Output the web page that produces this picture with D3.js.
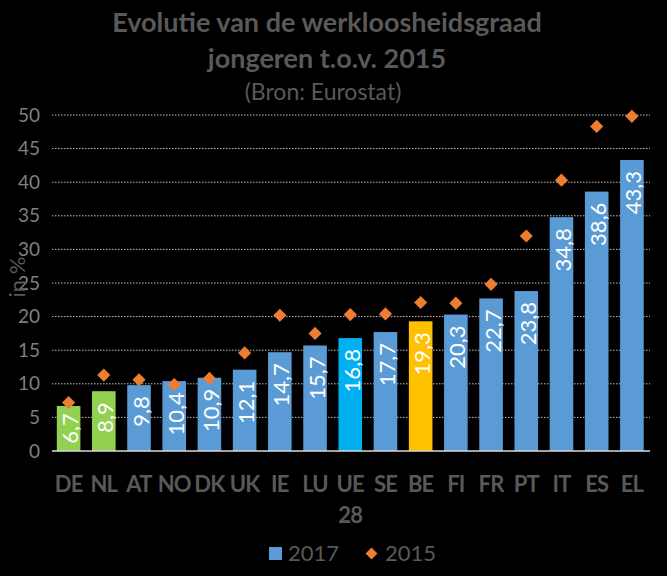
<!DOCTYPE html>
<html>
<head>
<meta charset="utf-8">
<script src="https://cdn.jsdelivr.net/npm/d3@7"></script>
<style>
  html, body { margin: 0; padding: 0; background: #000; }
  svg { display: block; font-family: Lato, "Open Sans", sans-serif; }
</style>
</head>
<body>
<svg id="chart" width="667" height="576"></svg>
<script>
const categories = ["DE","NL","AT","NO","DK","UK","IE","LU","UE 28","SE","BE","FI","FR","PT","IT","ES","EL"];
const values2017 = [6.7, 8.9, 9.8, 10.4, 10.9, 12.1, 14.7, 15.7, 16.8, 17.7, 19.3, 20.3, 22.7, 23.8, 34.8, 38.6, 43.3];
const values2015 = [7.2, 11.3, 10.6, 9.9, 10.8, 14.6, 20.2, 17.5, 20.3, 20.4, 22.1, 22.0, 24.8, 32.0, 40.3, 48.3, 49.8];
const yTicks = [0, 5, 10, 15, 20, 25, 30, 35, 40, 45, 50];
const seriesNames = ["2017", "2015"];
const titleLines = ["Evolutie van de werkloosheidsgraad", "jongeren t.o.v. 2015"];
const subtitle = "(Bron: Eurostat)";
const yAxisLabel = "in %";

const barColor = c => c === "NL" || c === "DE" ? "#92D050" : c === "UE 28" ? "#00B0F0" : c === "BE" ? "#FFC000" : "#5B9BD5";
const diamondColor = "#ED7D31";

const svg = d3.select("#chart");
const W = 667, H = 576;
svg.append("rect").attr("width", W).attr("height", H).attr("fill", "#000");

const x = d3.scaleBand().domain(categories).range([51, 649.5]).paddingInner(0.33).paddingOuter(0.165);
const y = d3.scaleLinear().domain([0, 50]).range([451, 115]);

// Title
svg.append("text").attr("x", 327).attr("y", 32).attr("text-anchor", "middle")
  .attr("font-size", 27).attr("font-weight", "bold").attr("fill", "#595959").text(titleLines[0]);
svg.append("text").attr("x", 327).attr("y", 68).attr("text-anchor", "middle")
  .attr("font-size", 27).attr("font-weight", "bold").attr("fill", "#595959").text(titleLines[1]);
svg.append("text").attr("x", 323).attr("y", 100).attr("text-anchor", "middle")
  .attr("font-size", 23).attr("fill", "#595959").text(subtitle);

// Gridlines
svg.append("g").selectAll("line").data(yTicks.filter(t => t > 0)).join("line")
  .attr("x1", 52).attr("x2", 650).attr("y1", d => y(d)).attr("y2", d => y(d))
  .attr("stroke", "#bfbfbf").attr("stroke-width", 1).attr("stroke-dasharray", "1.5,1.5");

// Y axis
const yAxis = svg.append("g").attr("transform", "translate(40,0)")
  .call(d3.axisLeft(y).tickValues(yTicks).tickSize(0).tickPadding(0));
yAxis.select(".domain").remove();
yAxis.selectAll("text").attr("font-size", 19).attr("fill", "#7f7f7f").attr("font-family", "Lato, sans-serif");

// Y axis title
svg.append("text").attr("transform", "translate(25,277) rotate(-90)").attr("text-anchor", "middle")
  .attr("font-size", 22).attr("fill", "#595959").text(yAxisLabel);

// Bars
svg.append("g").selectAll("rect").data(categories).join("rect")
  .attr("x", d => x(d)).attr("width", x.bandwidth())
  .attr("y", (d, i) => y(values2017[i])).attr("height", (d, i) => y(0) - y(values2017[i]))
  .attr("fill", d => barColor(d));

// Zero axis line
svg.append("line").attr("x1", 52).attr("x2", 650).attr("y1", y(0)).attr("y2", y(0))
  .attr("stroke", "#d9d9d9").attr("stroke-width", 1.5);

// Data labels (rotated)
const fmt = v => d3.format(".1f")(v).replace(".", ",");
const labels = svg.append("g").selectAll("text").data(categories).join("text")
  .attr("text-anchor", "end").attr("dominant-baseline", "central")
  .attr("font-size", 22).attr("fill", "#ffffff")
  .text((d, i) => fmt(values2017[i]));
labels.each(function(d, i) {
  const len = this.getComputedTextLength();
  const top = y(values2017[i]);
  const base = y(0);
  let tEnd = top + 11;
  if (tEnd + len > base - 5) tEnd = (top + base) / 2 - len / 2;
  const cx = x(d) + x.bandwidth() / 2 + 1;
  d3.select(this).attr("transform", `translate(${cx},${tEnd}) rotate(-90)`);
});

// Diamonds 2015
const diamond = d3.symbol().type(d3.symbolDiamond2).size(110);
svg.append("g").selectAll("path").data(categories).join("path")
  .attr("d", diamond)
  .attr("transform", (d, i) => `translate(${x(d) + x.bandwidth() / 2},${y(values2015[i])})`)
  .attr("fill", diamondColor);

// Category labels
const cat = svg.append("g").selectAll("text").data(categories).join("text")
  .attr("x", d => x(d) + x.bandwidth() / 2).attr("y", 492)
  .attr("text-anchor", "middle").attr("font-size", 22).attr("font-weight", "bold")
  .attr("letter-spacing", -0.8).attr("fill", "#595959");
cat.each(function(d) {
  const parts = d.split(" ");
  const t = d3.select(this);
  parts.forEach((p, k) => {
    t.append("tspan").attr("x", x(d) + x.bandwidth() / 2).attr("dy", k === 0 ? 0 : 31).text(p);
  });
});

// Legend
const lg = svg.append("g");
lg.append("rect").attr("x", 269).attr("y", 547).attr("width", 13).attr("height", 13).attr("fill", "#5B9BD5");
lg.append("text").attr("x", 288).attr("y", 561).attr("font-size", 22).attr("fill", "#595959").text(seriesNames[0]);
lg.append("path").attr("d", d3.symbol().type(d3.symbolDiamond2).size(90)).attr("transform", "translate(371.5,553.5)").attr("fill", diamondColor);
lg.append("text").attr("x", 385).attr("y", 561).attr("font-size", 22).attr("fill", "#595959").text(seriesNames[1]);
</script>
</body>
</html>
